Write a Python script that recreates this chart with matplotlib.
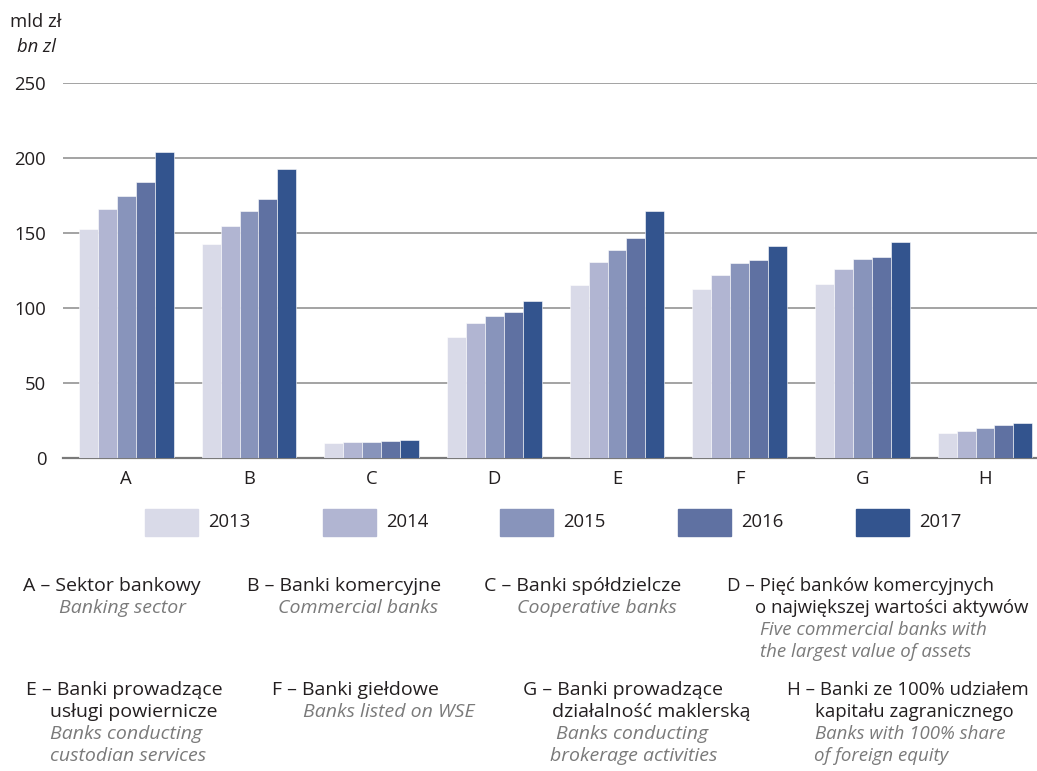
import numpy as np
import matplotlib.pyplot as plt
from matplotlib.patches import Rectangle

plt.rcParams['font.family'] = ['Open Sans', 'DejaVu Sans']

# Data (mld zł / bn zl)
categories = ['A', 'B', 'C', 'D', 'E', 'F', 'G', 'H']
years = ['2013', '2014', '2015', '2016', '2017']
v2013 = [153, 143, 10.2, 80.7, 115.5, 113, 115.8, 17]
v2014 = [166, 155, 10.9, 89.8, 131, 122, 125.8, 17.7]
v2015 = [175, 164.7, 10.8, 95, 139, 130, 132.5, 19.8]
v2016 = [184, 172.7, 11.6, 97.3, 147, 132, 133.8, 22.2]
v2017 = [204, 192.5, 12, 105, 164.7, 141.3, 143.8, 23.6]
series = [v2013, v2014, v2015, v2016, v2017]
colors = ['#d9dae8', '#b1b5d2', '#8894bb', '#5f71a2', '#33548e']

W, H = 1037, 771
fig = plt.figure(figsize=(W / 100, H / 100), dpi=100)
ax = fig.add_axes([63 / W, (H - 458) / H, (W - 63) / W, 375 / H])

x = np.arange(len(categories))
bw = 0.154
for i, (vals, c) in enumerate(zip(series, colors)):
    ax.bar(x + (i - 2) * bw, vals, bw, color=c, edgecolor='white', linewidth=0.4, zorder=3)

ax.set_ylim(0, 250)
ax.set_xlim(-0.516, 7.424)
ax.set_yticks([0, 50, 100, 150, 200, 250])
ax.set_xticks(x)
ax.set_xticklabels(categories)
for y in [50, 100, 150, 200, 250]:
    ax.axhline(y, color='#9c9c9c', linewidth=1.3, zorder=1)
for s in ['top', 'right', 'left']:
    ax.spines[s].set_visible(False)
ax.spines['bottom'].set_color('#7a7a7a')
ax.spines['bottom'].set_linewidth(1.6)
ax.tick_params(length=0, labelsize=13.3, colors='#231f20')
ax.tick_params(axis='y', pad=12)
ax.tick_params(axis='x', pad=9)

# unit labels
fig.text(36 / W, 1 - 22 / H, 'mld zł', ha='center', va='center', fontsize=13.3, color='#231f20')
fig.text(36 / W, 1 - 47 / H, 'bn zl', ha='center', va='center', fontsize=13.3,
         style='italic', color='#231f20')

# legend
for i, (yr, c) in enumerate(zip(years, colors)):
    x0 = 145 + i * 177.7
    fig.add_artist(Rectangle((x0 / W, 1 - 536 / H), 53 / W, 27 / H,
                             transform=fig.transFigure, color=c))
    fig.text((x0 + 63) / W, 1 - 522 / H, yr, ha='left', va='center',
             fontsize=13.3, color='#231f20')

# category descriptions: (x px, baseline px, text, italic english, size)
black = '#231f20'
grey = '#7a7a7a'
desc = [
    (23, 591, 'A – Sektor bankowy', False, 14),
    (59, 613, 'Banking sector', True, 14),
    (247, 591, 'B – Banki komercyjne', False, 14),
    (278, 613, 'Commercial banks', True, 14),
    (484, 591, 'C – Banki spółdzielcze', False, 14),
    (517, 613, 'Cooperative banks', True, 14),
    (727, 591, 'D – Pięć banków komercyjnych', False, 13.4),
    (755, 613, 'o największej wartości aktywów', False, 13.4),
    (760, 635, 'Five commercial banks with', True, 13.4),
    (760, 657, 'the largest value of assets', True, 13.4),
    (26, 695, 'E – Banki prowadzące', False, 14),
    (50, 717, 'usługi powiernicze', False, 14),
    (50, 739, 'Banks conducting', True, 14),
    (50, 761, 'custodian services', True, 14),
    (272, 695, 'F – Banki giełdowe', False, 14),
    (303, 717, 'Banks listed on WSE', True, 14),
    (523, 695, 'G – Banki prowadzące', False, 14),
    (552, 717, 'działalność maklerską', False, 14),
    (556, 739, 'Banks conducting', True, 14),
    (550, 761, 'brokerage activities', True, 14),
    (787, 695, 'H – Banki ze 100% udziałem', False, 13.4),
    (815, 717, 'kapitału zagranicznego', False, 13.4),
    (815, 739, 'Banks with 100% share', True, 13.4),
    (814, 761, 'of foreign equity', True, 13.4),
]
for px, py, txt, ital, fs in desc:
    fig.text(px / W, 1 - py / H, txt, ha='left', va='baseline', fontsize=fs,
             style='italic' if ital else 'normal', color=grey if ital else black)

fig.savefig('out.png', dpi=100)
